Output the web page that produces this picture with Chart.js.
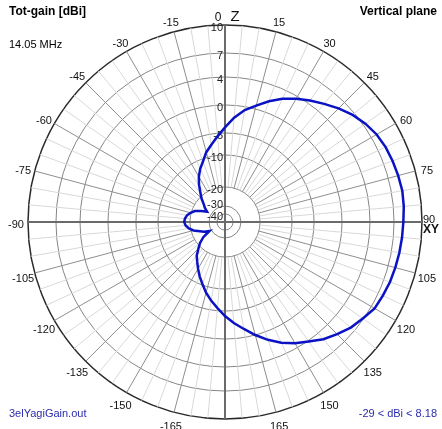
<!DOCTYPE html>
<html>
<head>
<meta charset="utf-8">
<script src="https://cdn.jsdelivr.net/npm/chart.js@4.4.1/dist/chart.umd.min.js"></script>
<style>
  html, body { margin: 0; padding: 0; background: #fff; }
  canvas { display: block; }
</style>
</head>
<body>
<canvas id="pattern" width="442" height="429"></canvas>
<script>
// Elevation angle in degrees, 0 = zenith (Z), 90 = horizon (XY), clockwise
const angles = [
  0, 5, 10, 15, 20, 25, 30, 35, 40, 45, 50, 55,
  60, 65, 70, 75, 80, 85, 90, 95, 100, 105, 110, 115,
  120, 125, 130, 135, 140, 145, 150, 155, 160, 165, 170, 175,
  180, 185, 190, 195, 200, 205, 210, 215, 220, 225, 230, 235,
  240, 245, 250, 255, 260, 265, 270, 275, 280, 285, 290, 295,
  300, 305, 310, 315, 320, 325, 330, 335, 340, 345, 350, 355
]

// Total gain (dBi), one value per angle above
const gainDbi = [
  -4.0, -2.2, -0.6, 0.5, 1.65, 2.7, 3.6, 4.4, 5.15, 5.95, 6.7, 7.25,
  7.65, 7.88, 8.0, 8.1, 8.18, 8.12, 8.0, 7.93, 7.86, 7.78, 7.7, 7.55,
  7.4, 6.9, 6.4, 5.7, 5.0, 4.1, 3.3, 2.3, 1.2, 0.0, -1.5, -2.8,
  -4.1, -5.6, -7.1, -8.6, -10.3, -12.2, -14.1, -15.8, -17.2, -19.2, -21.3, -24.5,
  -29.0, -26.3, -24.3, -21.3, -19.5, -18.6, -18.2, -18.4, -18.9, -19.8, -21.5, -24.6,
  -27.5, -25.5, -23.8, -21.0, -19.0, -16.8, -14.6, -12.6, -10.8, -8.8, -7.4, -5.7
]

// Rings of the gain scale (dBi)
const ringDbi = [-40, -30, -20, -10, -5, 0, 4, 7, 10]

const titleLeft = 'Tot-gain [dBi]'
const titleRight = 'Vertical plane'
const frequency = '14.05 MHz'
const fileName = '3elYagiGain.out'
const rangeText = '-29 < dBi < 8.18'

// Radial scale with the compressed (log-like) spacing of the plot program.
// Each stop is [dBi, fraction of the outer radius].
class GainScale extends Chart.RadialLinearScale {
  getDistanceFromCenterForValue(value) {
    if (value === null || value === undefined || isNaN(value)) {
      return 0
    }
    const stops = GainScale.stops
    let f
    if (value <= stops[0][0]) {
      f = Math.max(0, stops[0][1] * (value + 50) / 10)
    } else if (value >= stops[stops.length - 1][0]) {
      f = 1
    } else {
      for (let i = 1; i < stops.length; i++) {
        if (value <= stops[i][0]) {
          const [v0, f0] = stops[i - 1]
          const [v1, f1] = stops[i]
          f = f0 + (f1 - f0) * (value - v0) / (v1 - v0)
          break
        }
      }
    }
    return this.drawingArea * f
  }
}
GainScale.id = 'gain'
GainScale.defaults = Chart.RadialLinearScale.defaults
GainScale.stops = [
  [-40, 0.041], [-30, 0.081], [-20, 0.178], [-10, 0.340], [-5, 0.452],
  [0, 0.594], [4, 0.736], [7, 0.858], [10, 1]
]
Chart.register(GainScale)

const FONT = '"Liberation Sans", Arial, sans-serif'

const patternDecor = {
  id: 'patternDecor',
  beforeDatasetsDraw(chart) {
    const scale = chart.scales.r
    const ctx = chart.ctx
    const inner = scale.getDistanceFromCenterForValue(-20)
    const outer = scale.getDistanceFromCenterForValue(scale.max)

    ctx.save()
    // spokes: light every 5 deg, darker every 15 deg, axes through the centre
    const passes = [
      { test: (d) => d % 15 !== 0, color: '#d8d8d8', width: 1 },
      { test: (d) => d % 15 === 0 && d % 90 !== 0, color: '#8e8e8e', width: 1 },
      { test: (d) => d % 90 === 0, color: '#6a6a6a', width: 2 }
    ]
    passes.forEach((pass) => {
      ctx.strokeStyle = pass.color
      ctx.lineWidth = pass.width
      angles.forEach((deg, i) => {
        if (!pass.test(deg)) return
        const from = scale.getPointPosition(i, deg % 90 === 0 ? 0 : inner)
        const to = scale.getPointPosition(i, outer)
        ctx.beginPath()
        ctx.moveTo(from.x, from.y)
        ctx.lineTo(to.x, to.y)
        ctx.stroke()
      })
    })

    // ring labels, left of the vertical axis
    ctx.font = '11px ' + FONT
    ctx.fillStyle = '#222'
    ctx.textAlign = 'right'
    ctx.textBaseline = 'middle'
    ringDbi.forEach((v) => {
      const r = scale.getDistanceFromCenterForValue(v)
      const dy = v === -30 ? -1 : 3
      ctx.fillText(String(v), scale.xCenter - 2, scale.yCenter - r + dy)
    })

    // angle labels every 15 deg
    ctx.textAlign = 'center'
    ctx.fillStyle = '#111'
    angles.forEach((deg, i) => {
      if (deg % 15 !== 0 || deg === 180) return
      const label = deg > 180 ? deg - 360 : deg
      let p = scale.getPointPosition(i, outer + 12)
      if (deg === 0) {
        ctx.font = '12px ' + FONT
        ctx.fillText('0', p.x - 7, p.y + 5)
        ctx.font = '15px ' + FONT
        ctx.fillText('Z', p.x + 10, p.y + 4)
        ctx.font = '11px ' + FONT
        return
      }
      if (deg === 90) {
        p = scale.getPointPosition(i, outer + 6)
        ctx.fillText('90', p.x + 1, p.y - 2)
        ctx.font = 'bold 12px ' + FONT
        ctx.fillText('XY', p.x + 3, p.y + 8)
        ctx.font = '11px ' + FONT
        return
      }
      ctx.fillText(String(label), p.x, p.y + 3)
    })
    ctx.restore()
  },
  afterDraw(chart) {
    const ctx = chart.ctx
    ctx.save()
    ctx.textBaseline = 'middle'
    ctx.fillStyle = '#000'
    ctx.font = 'bold 12px ' + FONT
    ctx.textAlign = 'left'
    ctx.fillText(titleLeft, 9, 12)
    ctx.textAlign = 'right'
    ctx.fillText(titleRight, 437, 12)
    ctx.font = '11px ' + FONT
    ctx.textAlign = 'left'
    ctx.fillText(frequency, 9, 45)
    ctx.fillStyle = '#2b2bb0'
    ctx.fillText(fileName, 9, 414)
    ctx.textAlign = 'right'
    ctx.fillText(rangeText, 437, 414)
    ctx.restore()
  }
}

new Chart(document.getElementById('pattern'), {
  type: 'radar',
  data: {
    labels: angles,
    datasets: [{
      data: gainDbi,
      borderColor: '#0a12c4',
      borderWidth: 2.5,
      pointRadius: 0,
      fill: false,
      tension: 0
    }]
  },
  options: {
    responsive: false,
    animation: false,
    layout: { padding: { left: 20, right: 12, top: 25, bottom: 10 } },
    plugins: {
      legend: { display: false },
      tooltip: { enabled: false }
    },
    scales: {
      r: {
        type: 'gain',
        min: -40,
        max: 10,
        afterBuildTicks: (scale) => {
          scale.ticks = ringDbi.map((v) => ({ value: v }))
        },
        ticks: { display: false },
        pointLabels: { display: false },
        angleLines: { display: false },
        grid: {
          circular: true,
          color: (ctx) => (ctx.tick && ctx.tick.value === 10 ? '#2a2a2a' : '#868686'),
          lineWidth: (ctx) => (ctx.tick && ctx.tick.value === 10 ? 1.5 : 1)
        }
      }
    }
  },
  plugins: [patternDecor]
})
</script>
</body>
</html>
